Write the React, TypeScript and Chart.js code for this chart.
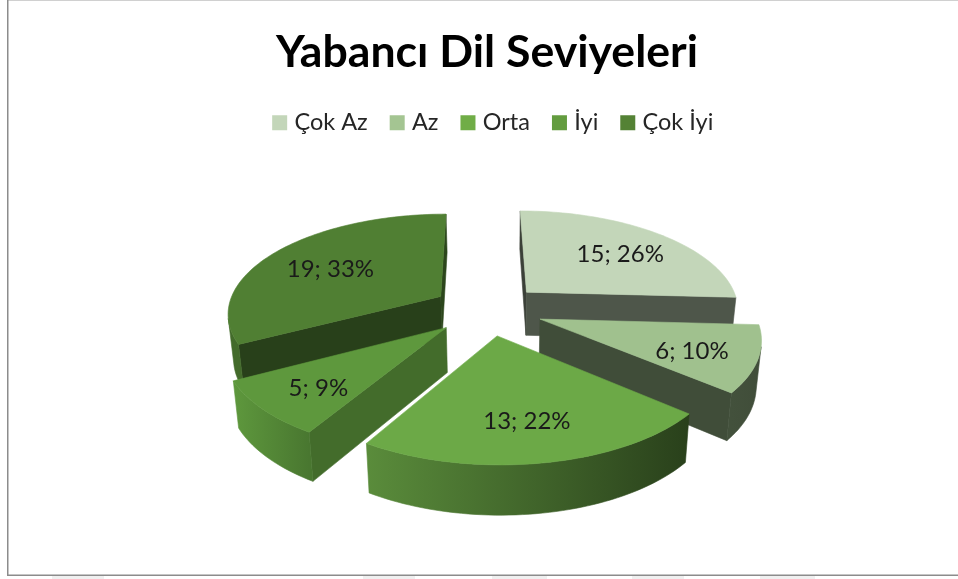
import React, { useEffect, useRef } from "react";
import { Chart, registerables } from "chart.js";

Chart.register(...registerables);

const titleText = "Yabancı Dil Seviyeleri";
const categories = ["Çok Az", "Az", "Orta", "İyi", "Çok İyi"];
const counts = [15, 6, 13, 5, 19];
const percents = [26, 10, 22, 9, 33];

const topColors = ["#c3d6b9", "#a0c18e", "#6ca947", "#5e983d", "#507f33"];
const legendColors = ["#c3d6b9", "#a4c592", "#70ad47", "#639c3f", "#548235"];
// shade of the wall along the rim: [at slice start, at slice end]
const rimShade = [[0.4, 0.4], [0.4, 0.42], [0.38, 0.83], [0.78, 1.0], [0.84, 0.84]];
// shade of the cut faces: [start cut, end cut]
const cutShade = [[0.3, 0.4], [0.4, 0.4], [0.6, 0.6], [0.71, 0.7], [0.5, 0.55]];

const EXPLODE = 0.26;
const LABEL_R = [0.69, 0.71, 0.68, 0.72, 0.66];

// view of the pie's plane
const VIEW = { a: 213.5, b: -76, c: 487.5, d: 50.1, f: 309.4, g: -0.1584 };

function project(X: number, Y: number) {
  const w = 1 + VIEW.g * Y;
  return { x: (VIEW.a * X + VIEW.b * Y + VIEW.c) / w, y: (VIEW.d * Y + VIEW.f) / w };
}
function drop(p: { x: number; y: number }, Y: number) {
  return { x: 500 + (p.x - 500) * 0.98, y: p.y + 44 + 5 * Y };
}
function shade(hex: string, k: number) {
  const n = parseInt(hex.slice(1), 16);
  const r = Math.round(((n >> 16) & 255) * k);
  const g = Math.round(((n >> 8) & 255) * k);
  const b = Math.round((n & 255) * k);
  return `rgb(${r},${g},${b})`;
}
function poly(ctx: CanvasRenderingContext2D, pts: { x: number; y: number }[], color: any) {
  ctx.beginPath();
  pts.forEach((p, i) => (i ? ctx.lineTo(p.x, p.y) : ctx.moveTo(p.x, p.y)));
  ctx.closePath();
  ctx.fillStyle = color;
  ctx.strokeStyle = color;
  ctx.lineWidth = 0.6;
  ctx.fill();
  ctx.stroke();
}

const pie3d = {
  id: "pie3d",
  afterLayout(chart: any) {
    chart.legend.left += 8;
    chart.legend.right += 8;
  },
  beforeDraw(chart: any) {
    const ctx: CanvasRenderingContext2D = chart.ctx;
    ctx.save();
    ctx.fillStyle = "#ffffff";
    ctx.fillRect(0, 0, 958, 579);
    ctx.fillStyle = "#d0d0d0";
    ctx.fillRect(8, 0, 950, 1);
    ctx.fillStyle = "#8c8c8c";
    ctx.fillRect(7, 0, 1.5, 576);
    ctx.fillRect(7, 574.5, 951, 1.5);
    ctx.fillStyle = "#f0f0f0";
    [[52, 52], [363, 52], [492, 55], [632, 52], [760, 55]].forEach(([x, w]) => ctx.fillRect(x, 576, w, 3));
    ctx.restore();
  },
  beforeDatasetsDraw(chart: any) {
    const ctx: CanvasRenderingContext2D = chart.ctx;
    const arcs = chart.getDatasetMeta(0).data;
    const slices = arcs.map((el: any, i: number) => {
      const mid = (el.startAngle + el.endAngle) / 2;
      return { i, s: el.startAngle, e: el.endAngle, ax: EXPLODE * Math.cos(mid), ay: EXPLODE * Math.sin(mid), mid };
    });
    const order = [...slices].sort((p: any, q: any) => p.ay - q.ay);
    ctx.save();
    for (const sl of order) {
      const base = topColors[sl.i];
      const apex = project(sl.ax, sl.ay);
      const apexB = drop(apex, sl.ay);
      const N = Math.max(8, Math.round(((sl.e - sl.s) * 180) / Math.PI / 1.5));
      const rim: { x: number; y: number }[] = [];
      const rimB: { x: number; y: number }[] = [];
      for (let k = 0; k <= N; k++) {
        const a = sl.s + ((sl.e - sl.s) * k) / N;
        const X = sl.ax + Math.cos(a);
        const Y = sl.ay + Math.sin(a);
        const p = project(X, Y);
        rim.push(p);
        rimB.push(drop(p, Y));
      }
      const cross = (u: any, v: any, o: any) => (u.x - o.x) * (v.y - o.y) - (u.y - o.y) * (v.x - o.x);
      // cut faces
      if (cross(rim[0], rimB[0], apex) < 0) {
        poly(ctx, [apex, rim[0], rimB[0], apexB], shade(base, cutShade[sl.i][0]));
      }
      if (cross(rim[N], rimB[N], apex) > 0) {
        poly(ctx, [apex, rim[N], rimB[N], apexB], shade(base, cutShade[sl.i][1]));
      }
      // rim wall: the part that faces the viewer, shaded along x
      const upper: { x: number; y: number }[] = [];
      const lower: { x: number; y: number }[] = [];
      for (let k = 0; k < N; k++) {
        const p1 = rim[k];
        const p2 = rim[k + 1];
        const c = (p2.x - p1.x) * (rimB[k].y - p1.y) - (p2.y - p1.y) * (rimB[k].x - p1.x);
        if (c < 0) {
          if (!upper.length) {
            upper.push(p1);
            lower.push(rimB[k]);
          }
          upper.push(p2);
          lower.push(rimB[k + 1]);
        }
      }
      if (upper.length) {
        const grad = ctx.createLinearGradient(upper[0].x, 0, upper[upper.length - 1].x, 0);
        grad.addColorStop(0, shade(base, rimShade[sl.i][0]));
        grad.addColorStop(1, shade(base, rimShade[sl.i][1]));
        poly(ctx, [...upper, ...lower.reverse()], grad);
      }
      // top face
      poly(ctx, [apex, ...rim], base);
    }
    // value labels
    ctx.fillStyle = "#1a1a1a";
    ctx.font = "24px Lato";
    ctx.textAlign = "center";
    ctx.textBaseline = "middle";
    for (const sl of slices) {
      const r = LABEL_R[sl.i];
      const p = project(sl.ax + r * Math.cos(sl.mid), sl.ay + r * Math.sin(sl.mid));
      ctx.fillText(`${counts[sl.i]}; ${percents[sl.i]}%`, p.x, p.y + 4);
    }
    ctx.restore();
    return false;
  },
};

export default function App() {
  const ref = useRef<HTMLCanvasElement>(null);
  useEffect(() => {
    document.body.style.margin = "0";
    const chart = new Chart(ref.current as HTMLCanvasElement, {
      type: "pie",
      data: {
        labels: categories,
        datasets: [{ data: counts, backgroundColor: legendColors, borderWidth: 0 }],
      },
      plugins: [pie3d as any],
      options: {
        responsive: false,
        animation: false,
        layout: { padding: { left: 16, right: 0, top: 0, bottom: 0 } },
        plugins: {
          tooltip: { enabled: false },
          title: {
            display: true,
            text: titleText,
            color: "#000000",
            font: { family: "Lato", size: 44.6, weight: "bold" },
            padding: { top: 26, bottom: 5 },
          },
          legend: {
            position: "top",
            labels: {
              color: "#262626",
              font: { family: "Lato", size: 23.5 },
              boxWidth: 6,
              boxHeight: 6,
              padding: 26.5,
              generateLabels: () =>
                categories.map((c, i) => ({
                  text: c,
                  fillStyle: legendColors[i],
                  strokeStyle: legendColors[i],
                  lineWidth: 9,
                  fontColor: "#262626",
                  index: i,
                })),
            },
          },
        },
      },
    } as any);
    return () => chart.destroy();
  }, []);
  return <canvas ref={ref} width={958} height={579} style={{ display: "block" }} />;
}
